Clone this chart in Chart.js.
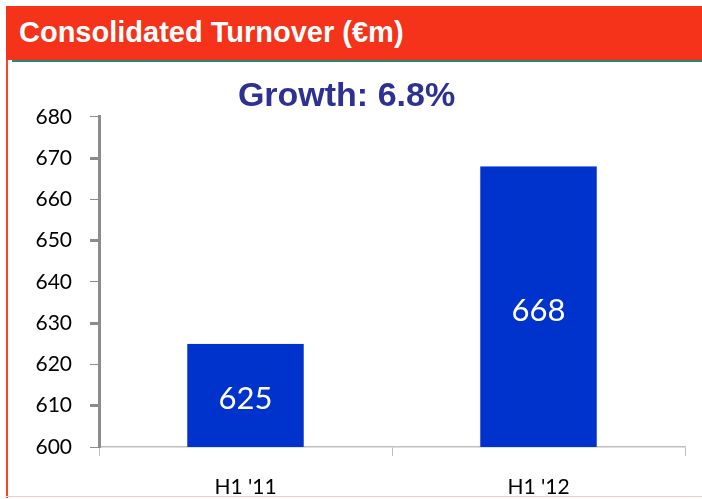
<!DOCTYPE html>
<html>
<head>
<meta charset="utf-8">
<script src="https://cdn.jsdelivr.net/npm/chart.js@4/dist/chart.umd.min.js"></script>
<style>
  html, body { margin: 0; padding: 0; background: #fff; }
  #wrap { position: relative; width: 702px; height: 499px; overflow: hidden; }
  #head {
    position: absolute; left: 6px; top: 6px; width: 696px; height: 54px;
    background: #F4331A; z-index: 2;
  }
  #head span {
    position: absolute; left: 13px; top: 10px;
    font: bold 29px "Liberation Sans", Arial, sans-serif; color: #fff; white-space: nowrap;
  }
  #teal { position: absolute; left: 12px; top: 60px; width: 690px; height: 2px; background: #1F8585; z-index: 2; }
  #lside { position: absolute; left: 6px; top: 60px; width: 2px; height: 438px; background: #F4462A; z-index: 2; }
  #bline { position: absolute; left: 6px; top: 496px; width: 696px; height: 1px; background: #FFC8C8; z-index: 2; }
  canvas { position: absolute; left: 0; top: 0; }
</style>
</head>
<body>
<div id="wrap">
  <div id="head"><span>Consolidated Turnover (€m)</span></div>
  <div id="teal"></div>
  <div id="lside"></div>
  <div id="bline"></div>
  <canvas id="turnover" width="702" height="499"></canvas>
</div>
<script>
// data
var periods = ["H1 '11", "H1 '12"];
var turnover = [625, 668];
var growthText = 'Growth: 6.8%';

// white numbers in the middle of each bar
var barValues = {
  id: 'barValues',
  afterDatasetsDraw: function (chart) {
    var ctx = chart.ctx;
    var meta = chart.getDatasetMeta(0);
    var yScale = chart.scales.y;
    ctx.save();
    ctx.fillStyle = '#ffffff';
    ctx.font = '31px Lato';
    ctx.textAlign = 'center';
    ctx.textBaseline = 'middle';
    for (var i = 0; i < meta.data.length; i++) {
      var top = yScale.getPixelForValue(turnover[i]);
      ctx.fillText(String(turnover[i]), meta.data[i].x, (top + yScale.bottom) / 2 + 4);
    }
    ctx.restore();
  }
};

var chart = new Chart(document.getElementById('turnover'), {
  type: 'bar',
  data: {
    labels: periods,
    datasets: [{
      data: turnover,
      backgroundColor: '#0033CC',
      borderColor: '#3A5FDD',
      borderWidth: { right: 1, left: 1, top: 0, bottom: 0 },
      barPercentage: 0.4,
      categoryPercentage: 1
    }]
  },
  options: {
    responsive: false,
    animation: false,
    layout: { padding: { left: 8, right: 17, top: 76, bottom: 2 } },
    plugins: {
      legend: { display: false },
      tooltip: { enabled: false },
      title: {
        display: true,
        text: growthText,
        color: '#2E3192',
        font: { family: '"Liberation Sans", Arial, sans-serif', size: 34, weight: 'bold' },
        padding: { top: 0, bottom: 0 }
      }
    },
    scales: {
      x: {
        afterFit: function (s) { s.height = 50; },
        border: { display: true, color: '#BFBFBF', width: 1.5 },
        grid: { drawOnChartArea: false, drawTicks: true, tickLength: 9, color: '#BFBFBF', offset: true },
        ticks: { color: '#000', padding: 19, font: { family: 'Lato, "Open Sans", sans-serif', size: 21 } }
      },
      y: {
        min: 600,
        max: 680,
        afterFit: function (s) { s.width = 91; },
        border: { display: true, color: '#8C8C8C', width: 3 },
        grid: {
          drawOnChartArea: false,
          drawTicks: true,
          tickLength: 9,
          tickColor: '#8C8C8C',
          tickWidth: function (c) {
            return (c.tick && (c.tick.value - 610) % 20 === 0) ? 3 : 1;
          }
        },
        ticks: {
          stepSize: 10,
          color: '#000',
          padding: 18,
          font: { family: 'Lato, "Open Sans", sans-serif', size: 21 }
        }
      }
    }
  },
  plugins: [barValues]
});
</script>
</body>
</html>
